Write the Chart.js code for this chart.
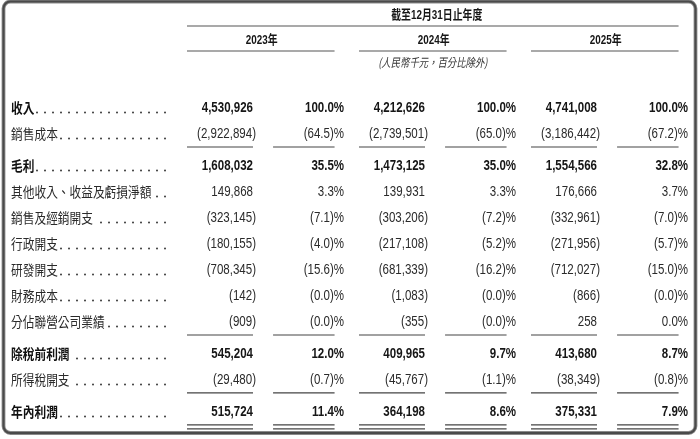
<!DOCTYPE html>
<html>
<head>
<meta charset="utf-8">
<script src="https://cdn.jsdelivr.net/npm/chart.js@4.4.1/dist/chart.umd.min.js"></script>
<style>
  html, body { margin: 0; padding: 0; background: #fff; }
  canvas { display: block; }
</style>
</head>
<body>
<canvas id="chart" width="700" height="439"></canvas>
<script>
// 表頭
const periodTitle = '截至12月31日止年度';
const yearLabels = ['2023年', '2024年', '2025年'];
const unitNote = '(人民幣千元，百分比除外)';

// 行項目
const rowLabels = [
    '收入', '銷售成本', '毛利', '其他收入、收益及虧損淨額', '銷售及經銷開支',
    '行政開支', '研發開支', '財務成本', '分佔聯營公司業績', '除稅前利潤',
    '所得稅開支', '年內利潤'
];
const subtotalRows = [0, 2, 9, 11];
const ruledRows = [1, 8, 10, 11];

// 金額（人民幣千元）
const amount2023 = [4530926, -2922894, 1608032, 149868, -323145, -180155, -708345, -142, -909, 545204, -29480, 515724];
const amount2024 = [4212626, -2739501, 1473125, 139931, -303206, -217108, -681339, -1083, -355, 409965, -45767, 364198];
const amount2025 = [4741008, -3186442, 1554566, 176666, -332961, -271956, -712027, -866, 258, 413680, -38349, 375331];

// 佔收入百分比
const share2023 = [100.0, -64.5, 35.5, 3.3, -7.1, -4.0, -15.6, -0.0, -0.0, 12.0, -0.7, 11.4];
const share2024 = [100.0, -65.0, 35.0, 3.3, -7.2, -5.2, -16.2, -0.0, -0.0, 9.7, -1.1, 8.6];
const share2025 = [100.0, -67.2, 32.8, 3.7, -7.0, -5.7, -15.0, -0.0, 0.0, 8.7, -0.8, 7.9];

// 版面：x 以年度為單位，y 以行為單位
const SHARE_OFFSET = 0.512;
const LABEL_X = -1.424;
const DOT_END_X = -0.529;
const RULE_GAP = 0.23;
const HEAD_Y = { title: -3.577, titleRule: -3.154, year: -2.615, yearRule: -2.192, note: -1.742 };

const NUM_FONT = '"Liberation Sans", Arial, sans-serif';
const CJK_FONT = '"Noto Sans CJK TC", "Noto Sans CJK SC", sans-serif';

const rowPos = i => i + RULE_GAP * ruledRows.filter(r => r < i).length;

const fmtAmount = v => {
    const s = Math.abs(v).toLocaleString('en-US');
    return v < 0 ? '(' + s + ')' : s;
};
const fmtShare = v => {
    const s = Math.abs(v).toFixed(1);
    return (v < 0 || Object.is(v, -0)) ? '(' + s + ')%' : s + '%';
};

function drawText(ctx, text, x, y, font, color, align, squeeze) {
    ctx.save();
    ctx.translate(x, y);
    ctx.scale(squeeze, 1);
    ctx.font = font;
    ctx.fillStyle = color;
    ctx.textAlign = align;
    ctx.textBaseline = 'middle';
    ctx.fillText(text, 0, 0);
    const w = ctx.measureText(text).width * squeeze;
    ctx.restore();
    return w;
}

function hLine(ctx, x1, x2, y, color, width) {
    ctx.save();
    ctx.strokeStyle = color;
    ctx.lineWidth = width;
    ctx.beginPath();
    ctx.moveTo(x1, y);
    ctx.lineTo(x2, y);
    ctx.stroke();
    ctx.restore();
}

const amounts = [amount2023, amount2024, amount2025];
const shares = [share2023, share2024, share2025];

const datasets = [{
    label: '項目',
    kind: 'label',
    data: rowLabels.map((t, i) => ({ x: LABEL_X, y: rowPos(i) }))
}];
amounts.forEach((arr, k) => datasets.push({
    label: yearLabels[k] + ' 金額',
    kind: 'amount',
    values: arr,
    data: arr.map((v, i) => ({ x: k, y: rowPos(i) }))
}));
shares.forEach((arr, k) => datasets.push({
    label: yearLabels[k] + ' %',
    kind: 'share',
    values: arr,
    data: arr.map((v, i) => ({ x: k + SHARE_OFFSET, y: rowPos(i) }))
}));

// 文字及橫線
const tablePlugin = {
    id: 'tableText',
    afterDatasetsDraw(chart) {
        const ctx = chart.ctx;
        const xs = chart.scales.x;
        const ys = chart.scales.y;

        chart.data.datasets.forEach((ds, d) => {
            const meta = chart.getDatasetMeta(d);
            meta.data.forEach((pt, i) => {
                const bold = subtotalRows.includes(i);
                if (ds.kind === 'label') {
                    const font = (bold ? 'bold ' : '') + '14px ' + CJK_FONT;
                    const w = drawText(ctx, rowLabels[i], pt.x, pt.y, font, bold ? '#111' : '#2a2a2a', 'left', 0.835);
                    // 點線
                    const dotEnd = xs.getPixelForValue(DOT_END_X);
                    ctx.save();
                    ctx.fillStyle = '#333';
                    for (let dx = dotEnd; dx > pt.x + w + 1.5; dx -= 8) {
                        ctx.beginPath();
                        ctx.arc(dx, pt.y + 4.5, 0.95, 0, Math.PI * 2);
                        ctx.fill();
                    }
                    ctx.restore();
                } else {
                    const v = ds.values[i];
                    const font = (bold ? 'bold ' : '') + '14.5px ' + NUM_FONT;
                    const color = bold ? '#161616' : '#2a2a2a';
                    if (ds.kind === 'amount') {
                        drawText(ctx, fmtAmount(v), pt.x - (v < 0 ? 0 : 3), pt.y, font, color, 'right', 0.795);
                    } else {
                        drawText(ctx, fmtShare(v), pt.x, pt.y, font, color, 'right', 0.795);
                    }
                }
            });
        });

        // 年度欄
        const spans = yearLabels.map((t, k) => {
            const a = xs.getPixelForValue(k);
            const s = xs.getPixelForValue(k + SHARE_OFFSET);
            return { a1: a - 69, a2: a - 3, s1: s - 71, s2: s - 9.5 };
        });
        const titleY = ys.getPixelForValue(HEAD_Y.title);
        const titleRuleY = ys.getPixelForValue(HEAD_Y.titleRule);
        const yearY = ys.getPixelForValue(HEAD_Y.year);
        const yearRuleY = ys.getPixelForValue(HEAD_Y.yearRule);
        const noteY = ys.getPixelForValue(HEAD_Y.note);
        const left = spans[0].a1, right = spans[2].s2;
        const headFont = 'bold 13px ' + NUM_FONT + ', ' + CJK_FONT;

        drawText(ctx, periodTitle, (left + right) / 2 + 4, titleY, headFont, '#161616', 'center', 0.76);
        hLine(ctx, left, right, titleRuleY, '#555', 1.2);

        spans.forEach((sp, k) => {
            const cx = (sp.a1 + sp.s2) / 2;
            drawText(ctx, yearLabels[k], cx + 1, yearY, headFont, '#161616', 'center', 0.76);
            hLine(ctx, sp.a1, sp.s2, yearRuleY, '#555', 1.2);
        });
        drawText(ctx, unitNote, (spans[1].a1 + spans[1].s2) / 2, noteY, 'italic 12px ' + CJK_FONT, '#333', 'center', 0.78);

        // 小計線
        ruledRows.forEach(r => {
            const count = r === rowLabels.length - 1 ? 2 : 1;
            for (let n = 0; n < count; n++) {
                const y = ys.getPixelForValue(rowPos(r) + 0.5 + n * 0.155);
                spans.forEach(sp => {
                    hLine(ctx, sp.a1, sp.a2, y, '#444', 1.2);
                    hLine(ctx, sp.s1, sp.s2, y, '#444', 1.2);
                });
            }
        });
    },
    afterDraw(chart) {
        // 外框
        const ctx = chart.ctx;
        ctx.save();
        ctx.beginPath();
        ctx.roundRect(3.5, 1.5, 692, 431.5, 7);
        ctx.strokeStyle = '#8a8a8a';
        ctx.lineWidth = 3.8;
        ctx.stroke();
        ctx.strokeStyle = '#4a4a4a';
        ctx.lineWidth = 2;
        ctx.stroke();
        ctx.restore();
    }
};

new Chart(document.getElementById('chart'), {
    type: 'scatter',
    data: { datasets: datasets },
    options: {
        responsive: false,
        animation: false,
        events: [],
        layout: { padding: 0 },
        elements: { point: { radius: 0, hoverRadius: 0 } },
        plugins: {
            legend: { display: false },
            tooltip: { enabled: false }
        },
        scales: {
            x: { type: 'linear', display: false, min: -1.4884, max: 2.5814 },
            y: { type: 'linear', display: false, reverse: true, min: -4.1538, max: 12.7308 }
        }
    },
    plugins: [tablePlugin]
});
</script>
</body>
</html>
